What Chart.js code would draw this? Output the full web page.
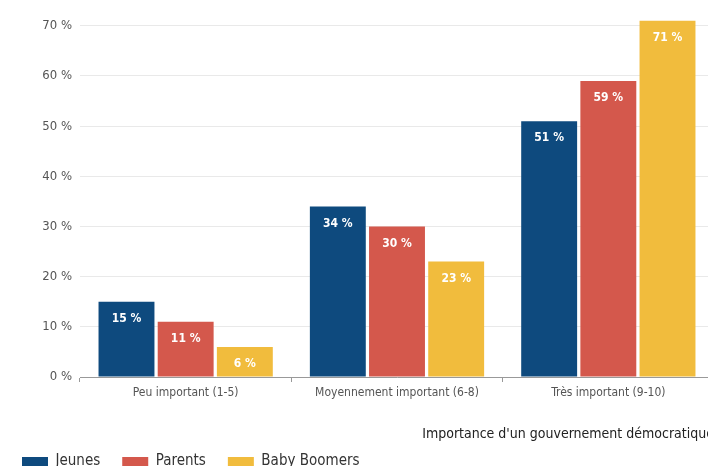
<!DOCTYPE html>
<html><head><meta charset="utf-8">
<script src="https://cdn.jsdelivr.net/npm/chart.js@4/dist/chart.umd.min.js"></script>
<style>html,body{margin:0;padding:0;overflow:hidden;background:#fff;width:708px;height:466px}
#wrap{position:absolute;left:0;top:0;width:722px;height:479px}</style>
</head><body><div id="wrap"><canvas id="c" width="722" height="479"></canvas></div>
<script>
const categories = ["Peu important (1-5)", "Moyennement important (6-8)", "Très important (9-10)"];
const jeunes = [15, 34, 51];
const parents = [11, 30, 59];
const boomers = [6, 23, 71];
const seriesNames = ["Jeunes", "Parents", "Baby Boomers"];
const yTicks = [0, 10, 20, 30, 40, 50, 60, 70];
const axisTitle = "Importance d'un gouvernement démocratique";

const FONT = "'Liberation Sans Narrow', 'Arial Narrow', 'DejaVu Sans Condensed', sans-serif";

const labelPlugin = {
  id: 'barLabels',
  afterDatasetsDraw(chart) {
    const ctx = chart.ctx;
    ctx.save();
    ctx.fillStyle = '#ffffff';
    ctx.font = "bold 12px " + FONT;
    ctx.textAlign = 'center';
    ctx.textBaseline = 'middle';
    chart.data.datasets.forEach((ds, i) => {
      chart.getDatasetMeta(i).data.forEach((bar, j) => {
        ctx.fillText(ds.data[j] + ' %', bar.x, bar.y + 17);
      });
    });
    ctx.restore();
  }
};

new Chart(document.getElementById('c'), {
  type: 'bar',
  data: {
    labels: categories,
    datasets: [
      {label: seriesNames[0], data: jeunes, backgroundColor: '#0e4a7e'},
      {label: seriesNames[1], data: parents, backgroundColor: '#d4584c'},
      {label: seriesNames[2], data: boomers, backgroundColor: '#f1bc3d'}
    ]
  },
  options: {
    responsive: false,
    animation: false,
    devicePixelRatio: 1,
    layout: {padding: {left: 0, right: 8, top: 15, bottom: 0}},
    datasets: {bar: {categoryPercentage: 0.84, barPercentage: 0.945}},
    plugins: {
      legend: {
        position: 'bottom', align: 'start',
        labels: {boxWidth: 26, boxHeight: 9, padding: 22, color: '#333',
                 font: {family: FONT, size: 15}}
      },
      tooltip: {enabled: false}
    },
    scales: {
      x: {
        grid: {display: true, drawOnChartArea: false, offset: true, tickLength: 5, color: '#999'},
        border: {color: '#999'},
        ticks: {color: '#555', font: {family: FONT, size: 12}, padding: 4},
        title: {display: true, text: axisTitle, align: 'end', color: '#222',
                font: {family: FONT, size: 14}, padding: {top: 0, bottom: -11}},
        afterFit(s) { s.height = 55; }
      },
      y: {
        min: 0, max: 72,
        afterBuildTicks(s) { s.ticks = yTicks.map(v => ({value: v})); },
        ticks: {color: '#555', font: {family: FONT, size: 13}, padding: 8,
                callback: v => v + ' %'},
        grid: {color: '#e9e9e9', drawTicks: false},
        border: {display: false},
        afterFit(s) { s.width = 80; }
      }
    }
  },
  plugins: [labelPlugin]
});
</script></body></html>
